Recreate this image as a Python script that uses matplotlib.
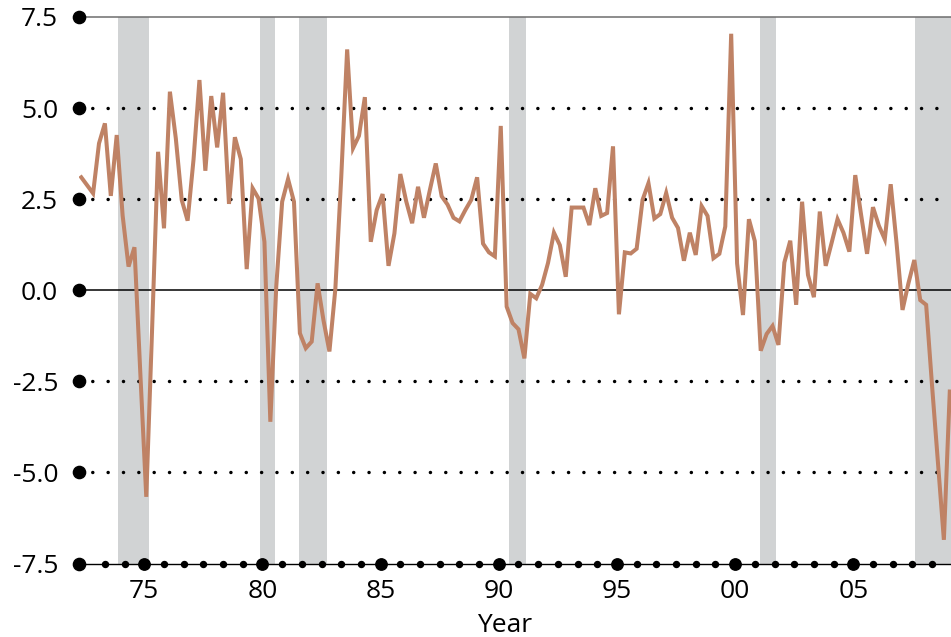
import numpy as np
import matplotlib
matplotlib.use('Agg')
import matplotlib.pyplot as plt

plt.rcParams['font.family'] = ['Open Sans', 'DejaVu Sans']

# ---------------- data ----------------
start_year = 1972.25          # first quarter in the series (1972 Q2)
values = [
    3.10, 2.88, 2.66, 4.03, 4.58, 2.59, 4.26, 2.05, 0.65, 1.18,
    -2.30, -5.67, -1.00, 3.80, 1.70, 5.45, 4.17, 2.48, 1.91, 3.59,
    5.77, 3.28, 5.33, 3.92, 5.42, 2.37, 4.20, 3.60, 0.58, 2.80,
    2.52, 1.33, -3.61, 0.10, 2.43, 3.05, 2.43, -1.18, -1.59, -1.41,
    0.19, -0.83, -1.68, 0.03, 3.10, 6.61, 3.90, 4.24, 5.30, 1.33,
    2.20, 2.64, 0.67, 1.56, 3.19, 2.44, 1.84, 2.84, 1.99, 2.75,
    3.48, 2.58, 2.35, 1.99, 1.89, 2.20, 2.48, 3.10, 1.28, 1.04,
    0.93, 4.51, -0.45, -0.90, -1.07, -1.87, -0.10, -0.22, 0.15, 0.75,
    1.58, 1.24, 0.37, 2.27, 2.27, 2.27, 1.79, 2.80, 2.04, 2.12,
    3.95, -0.66, 1.04, 1.01, 1.14, 2.48, 2.94, 1.97, 2.09, 2.67,
    1.99, 1.71, 0.81, 1.58, 0.97, 2.31, 2.04, 0.88, 1.00, 1.75,
    7.04, 0.74, -0.68, 1.95, 1.35, -1.66, -1.20, -0.98, -1.50, 0.76,
    1.36, -0.40, 2.43, 0.42, -0.19, 2.16, 0.67, 1.30, 1.95, 1.58,
    1.06, 3.16, 2.06, 1.00, 2.28, 1.77, 1.40, 2.91, 1.28, -0.54,
    0.19, 0.83, -0.27, -0.40, -2.62, -4.74, -6.85, -2.78,
]
recession_start = [1973.88, 1979.90, 1981.53, 1990.43, 2001.05, 2007.62]
recession_end = [1975.20, 1980.53, 1982.75, 1991.14, 2001.73, 2009.50]

y_ticks = [-7.5, -5.0, -2.5, 0.0, 2.5, 5.0, 7.5]
y_labels = ['-7.5', '-5.0', '-2.5', '0.0', '2.5', '5.0', '7.5']
x_ticks = [1975, 1980, 1985, 1990, 1995, 2000, 2005]
x_labels = ['75', '80', '85', '90', '95', '00', '05']
x_label = 'Year'

# ---------------- figure ----------------
W, H = 951, 637
fig = plt.figure(figsize=(W / 100, H / 100), dpi=100)
ax = fig.add_axes([79 / W, 1 - 563.5 / H, 1 - 79 / W, (563.5 - 17) / H])

xmin, xmax = 1972.237, 2009.135
ax.set_xlim(xmin, xmax)
ax.set_ylim(-7.5, 7.5)

line_col = '#bf8265'
shade_col = '#d1d3d4'

# recession shading
for s, e in zip(recession_start, recession_end):
    ax.axvspan(s, e, color=shade_col, lw=0, zorder=0)

# dotted grid lines
for yv in y_ticks:
    if yv in (-7.5, 0.0, 7.5):
        continue
    ax.axhline(yv, color='black', lw=2.5, linestyle=(0.6, (0.02, 4.4)),
               dash_capstyle='round', zorder=1)

ax.axhline(0.0, color='black', lw=1.1, zorder=2)

# data line
dates = start_year + 0.25 * np.arange(len(values)) + 1 / 12
ax.plot(dates, values, color=line_col, lw=2.9, zorder=3,
        solid_joinstyle='miter')

# spines
for sp in ('left', 'right'):
    ax.spines[sp].set_visible(False)
ax.spines['top'].set_color('#6d6d6d')
ax.spines['top'].set_linewidth(1.1)
ax.spines['bottom'].set_color('black')
ax.spines['bottom'].set_linewidth(1.0)

# ticks
ax.set_xticks(x_ticks)
ax.set_xticklabels(x_labels)
ax.set_yticks(y_ticks)
ax.set_yticklabels(y_labels)
ax.tick_params(axis='both', length=0, labelsize=19, colors='black')
ax.tick_params(axis='x', pad=11)
ax.tick_params(axis='y', pad=15)

# dot markers for ticks
minor = []
step = 5 / 6
all_majors = [1970] + x_ticks + [2010]
for a in all_majors[:-1]:
    for i in range(1, 6):
        v = a + i * step
        if 1973.0 < v < 2009.0:
            minor.append(v)

ax.plot(minor, [0] * len(minor), 'o', color='black', ms=4.3,
        transform=ax.get_xaxis_transform(), clip_on=False, zorder=5)
ax.plot(x_ticks, [0] * len(x_ticks), 'o', color='black', ms=8.2,
        transform=ax.get_xaxis_transform(), clip_on=False, zorder=5)
ax.plot([0] * len(y_ticks), y_ticks, 'o', color='black', ms=8.8,
        transform=ax.get_yaxis_transform(), clip_on=False, zorder=5)

ax.set_xlabel(x_label, fontsize=19)
ax.xaxis.set_label_coords(0.4885, -0.125)
ax.xaxis.label.set_va('baseline')

fig.savefig('out.png', dpi=100)
